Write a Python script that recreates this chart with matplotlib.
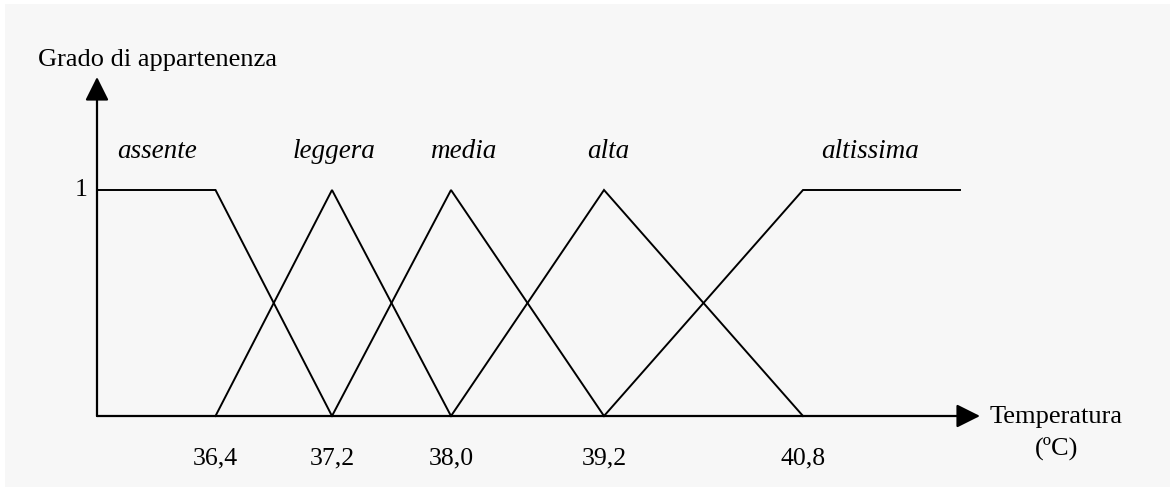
import numpy as np
import matplotlib
matplotlib.use('Agg')
import matplotlib.pyplot as plt
from matplotlib.patches import Rectangle

# Temperature breakpoints (ºC) of the fuzzy sets
temps = [36.4, 37.2, 38.0, 39.2, 40.8]
t_min, t_max = 35.6, 41.9          # ends of the temperature axis (not labelled)

# Membership functions: (name, x points, membership degree)
sets = [
    ('assente',   [t_min, 36.4, 37.2], [1, 1, 0]),
    ('leggera',   [36.4, 37.2, 38.0], [0, 1, 0]),
    ('media',     [37.2, 38.0, 39.2], [0, 1, 0]),
    ('alta',      [38.0, 39.2, 40.8], [0, 1, 0]),
    ('altissima', [39.2, 40.8, t_max], [0, 1, 1]),
]

# The drawing is schematic: breakpoints are not evenly spaced on the axis
axis_pos = [0, 118.5, 235, 354, 507, 706, 863]
scale_t = [t_min] + temps + [t_max]

def fwd(t):
    return np.interp(t, scale_t, axis_pos)

def inv(p):
    return np.interp(p, axis_pos, scale_t)

W, H = 1170, 492
fig = plt.figure(figsize=(W / 100, H / 100), dpi=100)
fig.patch.set_facecolor('white')
fig.patches.append(Rectangle((5 / W, 5 / H), 1165 / W, 483 / H,
                             transform=fig.transFigure, facecolor='#f7f7f7',
                             edgecolor='none', zorder=-5))

serif = 'Liberation Serif'
fs = 19

# axes box: left = y axis, bottom = x axis, top = tip of the y arrow
ax = fig.add_axes([97 / W, (H - 416) / H, 863 / W, 339 / H])
ax.set_xscale('function', functions=(fwd, inv))
ax.set_xlim(t_min, t_max)
ax.set_ylim(0, 339 / 226)
ax.set_axis_off()

for name, xs, ys in sets:
    ax.plot(xs, ys, color='black', lw=1.4, solid_joinstyle='miter',
            clip_on=False)

# axes with arrowheads
arrow = dict(arrowstyle='-|>', mutation_scale=36, lw=1.6, color='black',
             shrinkA=0, shrinkB=0)
ax.annotate('', xy=(1 + 20 / 863, 0), xytext=(0, 0),
            xycoords='axes fraction', textcoords='axes fraction', arrowprops=arrow)
ax.annotate('', xy=(0, 1), xytext=(0, 0),
            xycoords='axes fraction', textcoords='axes fraction', arrowprops=arrow)

# tick labels under the breakpoints
for t in temps:
    ax.text(t, -48 / 226, f'{t:.1f}'.replace('.', ','), ha='center',
            va='baseline', family=serif, fontsize=18.5)

# membership degree 1
ax.annotate('1', xy=(t_min, 1), xytext=(-7, 0), textcoords='offset points',
            ha='right', va='center', family=serif, fontsize=18.5)

# set names
label_x = [157, 334, 463, 608, 870]
for (name, _, _), lx in zip(sets, label_x):
    fig.text(lx / W, (H - 158) / H, name, ha='center', va='baseline',
             family=serif, style='italic', fontsize=19.5)

fig.text(38 / W, (H - 66) / H, 'Grado di appartenenza', ha='left',
         va='baseline', family=serif, fontsize=fs)
fig.text(1056 / W, (H - 423) / H, 'Temperatura', ha='center', va='baseline',
         family=serif, fontsize=fs)
fig.text(1057 / W, (H - 455) / H, '(ºC)', ha='center', va='baseline',
         family=serif, fontsize=fs)

fig.savefig('out.png', dpi=100, facecolor=fig.get_facecolor())
